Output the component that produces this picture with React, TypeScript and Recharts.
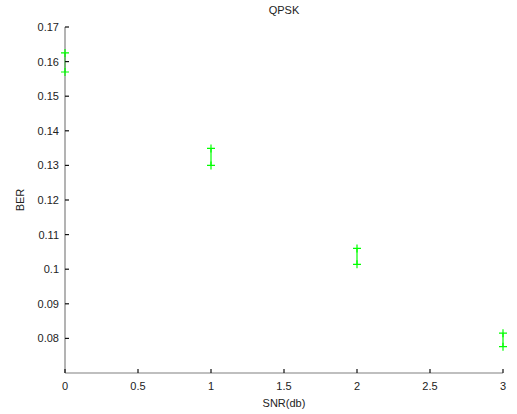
import { ScatterChart, Scatter, XAxis, YAxis, ErrorBar } from "recharts";

const snr = [0, 1, 2, 3];
const berHigh = [0.1625, 0.1349, 0.106, 0.0815];
const berLow = [0.157, 0.13, 0.1014, 0.0776];
const xTicks = [0, 0.5, 1, 1.5, 2, 2.5, 3];
const yTicks = [0.08, 0.09, 0.1, 0.11, 0.12, 0.13, 0.14, 0.15, 0.16, 0.17];

const GREEN = "#00ff00";
const FONT = "'Liberation Sans', Arial, sans-serif";

const highData = snr.map((x, i) => ({ x, y: berHigh[i], err: [berHigh[i] - berLow[i], 0] }));
const lowData = snr.map((x, i) => ({ x, y: berLow[i] }));

// marcador "+" estilo MATLAB
function Plus(props: any) {
  const { cx, cy } = props;
  if (cx == null || cy == null) return null;
  return (
    <path
      d={`M${cx - 4},${cy}h8M${cx},${cy - 4}v8`}
      stroke={GREEN}
      strokeWidth={1.2}
      fill="none"
    />
  );
}

// com tickSize=0 e tickMargin=0, x/y caem exatamente sobre a linha do eixo
function YTick(props: any) {
  const { x, y, payload } = props;
  const ax = Number(x);
  const ay = Number(y);
  return (
    <g>
      <rect x={ax} y={ay - 0.6} width={4} height={1.2} fill="#111" />
      <text x={ax - 6} y={ay} dy={4} textAnchor="end" fontSize={11} fill="#222" fontFamily={FONT}>
        {String(payload.value)}
      </text>
    </g>
  );
}

function XTick(props: any) {
  const { x, y, payload } = props;
  const ax = Number(x);
  const ay = Number(y);
  return (
    <g>
      <rect x={ax - 0.6} y={ay - 4} width={1.2} height={4} fill="#111" />
      <text x={ax} y={ay + 7} dy={10} textAnchor="middle" fontSize={11} fill="#222" fontFamily={FONT}>
        {String(payload.value)}
      </text>
    </g>
  );
}

export default function App() {
  return (
    <div style={{ position: "absolute", left: 0, top: 0, width: 517, height: 414, background: "#fff" }}>
      <ScatterChart width={517} height={414} margin={{ top: 27, right: 14, bottom: 11, left: 15 }}>
        <text x={284} y={14} textAnchor="middle" fontSize={11} fill="#222" fontFamily={FONT}>
          QPSK
        </text>
        <text
          x={24}
          y={200}
          textAnchor="middle"
          fontSize={11}
          fill="#222"
          fontFamily={FONT}
          transform="rotate(-90 24 200)"
        >
          BER
        </text>
        <text x={284} y={407} textAnchor="middle" fontSize={11} fill="#222" fontFamily={FONT}>
          SNR(db)
        </text>
        <XAxis
          type="number"
          dataKey="x"
          domain={[0, 3]}
          ticks={xTicks}
          height={30}
          tickSize={0}
          tickMargin={0}
          tickLine={false}
          tick={<XTick />}
          axisLine={{ stroke: "#808080", strokeWidth: 1.2 }}
        />
        <YAxis
          type="number"
          dataKey="y"
          domain={[0.07, 0.17]}
          ticks={yTicks}
          width={50}
          tickSize={0}
          tickMargin={0}
          tickLine={false}
          tick={<YTick />}
          axisLine={{ stroke: "#808080", strokeWidth: 1.2 }}
        />
        <Scatter data={highData} shape={<Plus />} isAnimationActive={false}>
          <ErrorBar dataKey="err" direction="y" width={0} stroke={GREEN} strokeWidth={1.2} />
        </Scatter>
        <Scatter data={lowData} shape={<Plus />} isAnimationActive={false} />
      </ScatterChart>
    </div>
  );
}
